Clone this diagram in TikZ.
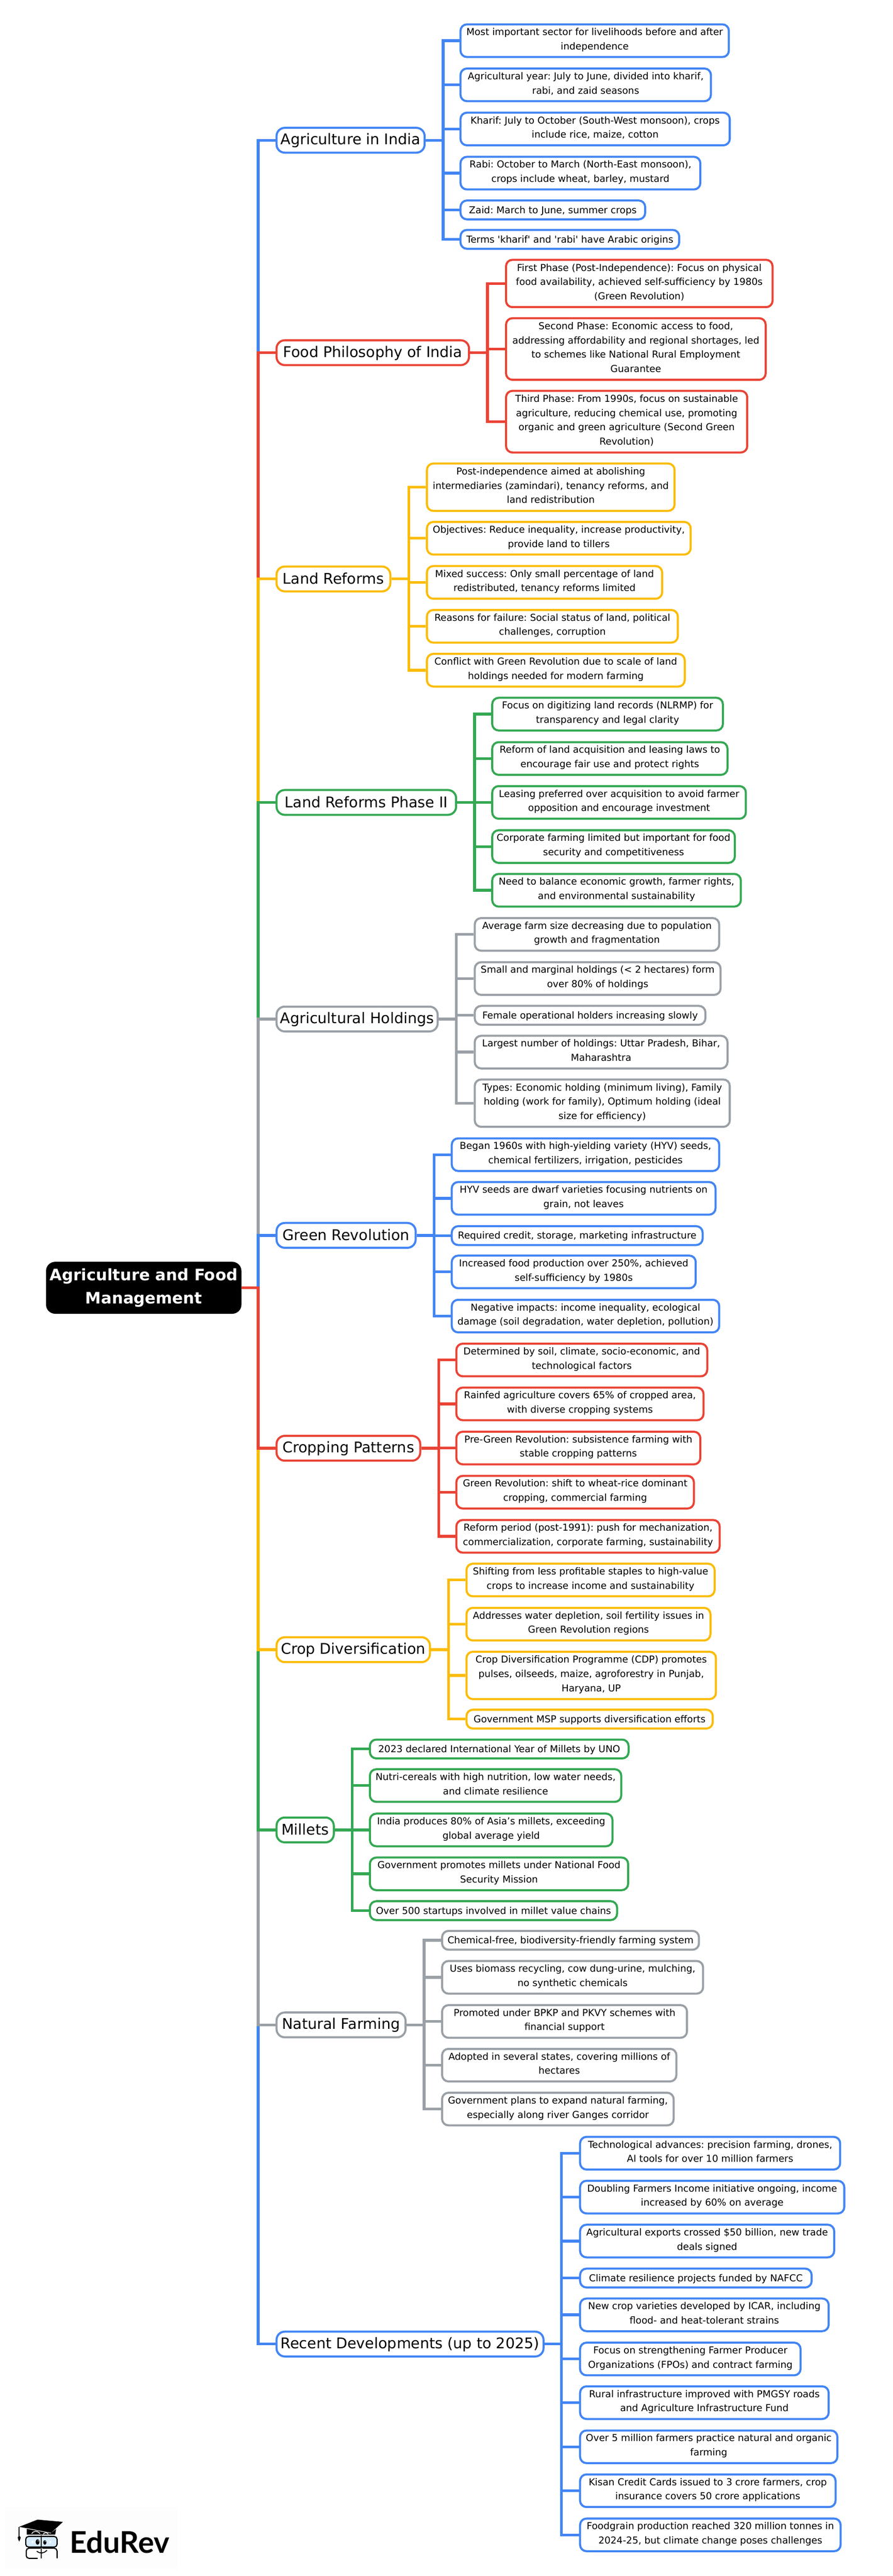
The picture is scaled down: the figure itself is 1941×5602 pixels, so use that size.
\documentclass[tikz,border=0pt]{standalone}
\usepackage{fontspec}
\newfontfamily\dejavu{DejaVu Sans}
\newfontfamily\latobold[Ligatures=TeX]{Lato}
\definecolor{bluec}{HTML}{4285F4}
\definecolor{redc}{HTML}{EA4335}
\definecolor{yellowc}{HTML}{FBBC04}
\definecolor{greenc}{HTML}{34A853}
\definecolor{grayc}{HTML}{9AA0A6}
\definecolor{glassc}{HTML}{D6ECFB}
\definecolor{logobg}{HTML}{FDFDFD}
\tikzset{
  leaf/.style n args={3}{draw=#1,line width=2.25pt,rounded corners=7pt,anchor=west,inner sep=0pt,align=center,
    minimum width=#2*0.5pt,minimum height=#3*0.5pt,
    font=\dejavu\frenchspacing\fontsize{10.4pt}{15.5pt}\selectfont,
    execute at begin node=\rule[-4pt]{0pt}{15.5pt},execute at end node=\rule[-4pt]{0pt}{15.5pt}},
  branch/.style n args={2}{draw=#1,line width=2.25pt,rounded corners=9pt,anchor=west,inner sep=0pt,align=center,
    minimum width=#2*0.5pt,minimum height=27pt,
    font=\dejavu\fontsize{16pt}{20pt}\selectfont,
    execute at begin node=\rule[-2pt]{0pt}{15pt}},
  rootbox/.style={fill=black,text=white,rounded corners=10pt,inner sep=0pt,align=center,
    minimum width=212.5pt,minimum height=56.5pt,
    font=\dejavu\bfseries\fontsize{17.2pt}{25.5pt}\selectfont,
    execute at begin node=\rule[-2pt]{0pt}{16pt},execute at end node=\rule[-2pt]{0pt}{16pt}},
  link/.style={draw=#1,line width=3pt}
}
\begin{document}
\begin{tikzpicture}[x=0.5pt,y=-0.5pt]
    \useasboundingbox (0,0) rectangle (1941,5602);
    % root
    \node[rootbox] (root) at (312.5,2800.5) {Agriculture and Food\\Management};
    % branches
    \node[branch={bluec}{322}] (agri) at (599,305) {Agriculture in India};
    \node[branch={redc}{418.5}] (food) at (599,767) {Food Philosophy of India};
    \node[branch={yellowc}{247.5}] (land) at (599,1259) {Land Reforms};
    \node[branch={greenc}{390.5}] (phase) at (599,1745) {Land Reforms Phase II};
    \node[branch={grayc}{350.5}] (hold) at (599,2216) {Agricultural Holdings};
    \node[branch={bluec}{302.5}] (green) at (599,2686.5) {Green Revolution};
    \node[branch={redc}{312.5}] (crop) at (599,3149.5) {Cropping Patterns};
    \node[branch={yellowc}{333.5}] (divers) at (599,3587.5) {Crop Diversification};
    \node[branch={greenc}{124.5}] (millet) at (599,3979.5) {Millets};
    \node[branch={grayc}{280.5}] (natural) at (599,4403.5) {Natural Farming};
    \node[branch={bluec}{580.5}] (recent) at (599,5097.5) {Recent Developments (up to 2025)};
    % agriculture in india
    \node[leaf={bluec}{583.5}{71}] (agria) at (999,88.5) {Most important sector for livelihoods before and after\\independence};
    \node[leaf={bluec}{544.5}{71}] (agrib) at (999,184.5) {Agricultural year: July to June, divided into kharif,\\rabi, and zaid seasons};
    \node[leaf={bluec}{585.5}{71}] (agric) at (999,280.5) {Kharif: July to October (South-West monsoon), crops\\include rice, maize, cotton};
    \node[leaf={bluec}{521.5}{71}] (agrid) at (999,376.5) {Rabi: October to March (North-East monsoon),\\crops include wheat, barley, mustard};
    \node[leaf={bluec}{401.5}{41}] (agrie) at (999,456.5) {Zaid: March to June, summer crops};
    \node[leaf={bluec}{475.5}{41}] (agrif) at (999,520.5) {Terms 'kharif' and 'rabi' have Arabic origins};
    % food philosophy
    \node[leaf={redc}{579.5}{103}] (fooda) at (1098,616.5) {First Phase (Post-Independence): Focus on physical\\food availability, achieved self-sufficiency by 1980s\\(Green Revolution)};
    \node[leaf={redc}{564.5}{134}] (foodb) at (1098,759) {Second Phase: Economic access to food,\\addressing affordability and regional shortages, led\\to schemes like National Rural Employment\\Guarantee};
    \node[leaf={redc}{524.5}{134}] (foodc) at (1098,917) {Third Phase: From 1990s, focus on sustainable\\agriculture, reducing chemical use, promoting\\organic and green agriculture (Second Green\\Revolution)};
    % land reforms
    \node[leaf={yellowc}{538.5}{103}] (landa) at (926,1059.5) {Post-independence aimed at abolishing\\intermediaries (zamindari), tenancy reforms, and\\land redistribution};
    \node[leaf={yellowc}{573.5}{71}] (landb) at (926,1170.5) {Objectives: Reduce inequality, increase productivity,\\provide land to tillers};
    \node[leaf={yellowc}{511.5}{71}] (landc) at (926,1266.5) {Mixed success: Only small percentage of land\\redistributed, tenancy reforms limited};
    \node[leaf={yellowc}{545.5}{71}] (landd) at (926,1362) {Reasons for failure: Social status of land, political\\challenges, corruption};
    \node[leaf={yellowc}{560.5}{71}] (lande) at (926,1457.5) {Conflict with Green Revolution due to scale of land\\holdings needed for modern farming};
    % land reforms phase ii
    \node[leaf={greenc}{501.5}{71}] (phasea) at (1068,1553) {Focus on digitizing land records (NLRMP) for\\transparency and legal clarity};
    \node[leaf={greenc}{511.5}{71}] (phaseb) at (1068,1649.5) {Reform of land acquisition and leasing laws to\\encourage fair use and protect rights};
    \node[leaf={greenc}{551.5}{71}] (phasec) at (1068,1745) {Leasing preferred over acquisition to avoid farmer\\opposition and encourage investment};
    \node[leaf={greenc}{527.5}{71}] (phased) at (1068,1841) {Corporate farming limited but important for food\\security and competitiveness};
    \node[leaf={greenc}{540.5}{71}] (phasee) at (1068,1936) {Need to balance economic growth, farmer rights,\\and environmental sustainability};
    % agricultural holdings
    \node[leaf={grayc}{531.5}{71}] (holda) at (1030,2032) {Average farm size decreasing due to population\\growth and fragmentation};
    \node[leaf={grayc}{534.5}{71}] (holdb) at (1030,2128) {Small and marginal holdings (< 2 hectares) form\\over 80\% of holdings};
    \node[leaf={grayc}{501.5}{41}] (holdc) at (1030,2208) {Female operational holders increasing slowly};
    \node[leaf={grayc}{549.5}{71}] (holdd) at (1030,2288) {Largest number of holdings: Uttar Pradesh, Bihar,\\Maharashtra};
    \node[leaf={grayc}{554.5}{103}] (holde) at (1030,2399) {Types: Economic holding (minimum living), Family\\holding (work for family), Optimum holding (ideal\\size for efficiency)};
    % green revolution
    \node[leaf={bluec}{581.5}{71}] (greena) at (980,2511) {Began 1960s with high-yielding variety (HYV) seeds,\\chemical fertilizers, irrigation, pesticides};
    \node[leaf={bluec}{573.5}{71}] (greenb) at (980,2606) {HYV seeds are dwarf varieties focusing nutrients on\\grain, not leaves};
    \node[leaf={bluec}{545.5}{41}] (greenc) at (980,2687) {Required credit, storage, marketing infrastructure};
    \node[leaf={bluec}{530.5}{71}] (greend) at (980,2766) {Increased food production over 250\%, achieved\\self-sufficiency by 1980s};
    \node[leaf={bluec}{581.5}{71}] (greene) at (980,2862) {Negative impacts: income inequality, ecological\\damage (soil degradation, water depletion, pollution)};
    % cropping patterns
    \node[leaf={redc}{545.5}{71}] (cropa) at (990,2957.5) {Determined by soil, climate, socio-economic, and\\technological factors};
    \node[leaf={redc}{537.5}{71}] (cropb) at (990,3053) {Rainfed agriculture covers 65\% of cropped area,\\with diverse cropping systems};
    \node[leaf={redc}{530.5}{71}] (cropc) at (990,3149) {Pre-Green Revolution: subsistence farming with\\stable cropping patterns};
    \node[leaf={redc}{516.5}{71}] (cropd) at (990,3245) {Green Revolution: shift to wheat-rice dominant\\cropping, commercial farming};
    \node[leaf={redc}{572.5}{71}] (crope) at (990,3341) {Reform period (post-1991): push for mechanization,\\commercialization, corporate farming, sustainability};
    % crop diversification
    \node[leaf={yellowc}{539.5}{71}] (diversa) at (1012,3436) {Shifting from less profitable staples to high-value\\crops to increase income and sustainability};
    \node[leaf={yellowc}{530.5}{71}] (diversb) at (1012,3532) {Addresses water depletion, soil fertility issues in\\Green Revolution regions};
    \node[leaf={yellowc}{542.5}{103}] (diversc) at (1012,3643.5) {Crop Diversification Programme (CDP) promotes\\pulses, oilseeds, maize, agroforestry in Punjab,\\Haryana, UP};
    \node[leaf={yellowc}{535.5}{41}] (diversd) at (1012,3738.5) {Government MSP supports diversification efforts};
    % millets
    \node[leaf={greenc}{562.5}{41}] (milleta) at (802,3803.5) {2023 declared International Year of Millets by UNO};
    \node[leaf={greenc}{546.5}{71}] (milletb) at (802,3883) {Nutri-cereals with high nutrition, low water needs,\\and climate resilience};
    \node[leaf={greenc}{527.5}{71}] (milletc) at (802,3979.5) {India produces 80\% of Asia’s millets, exceeding\\global average yield};
    \node[leaf={greenc}{561.5}{71}] (milletd) at (802,4075) {Government promotes millets under National Food\\Security Mission};
    \node[leaf={greenc}{537.5}{41}] (millete) at (802,4155) {Over 500 startups involved in millet value chains};
    % natural farming
    \node[leaf={grayc}{558.5}{41}] (naturala) at (959,4219.5) {Chemical-free, biodiversity-friendly farming system};
    \node[leaf={grayc}{567.5}{71}] (naturalb) at (959,4300) {Uses biomass recycling, cow dung-urine, mulching,\\no synthetic chemicals};
    \node[leaf={grayc}{532.5}{71}] (naturalc) at (959,4396) {Promoted under BPKP and PKVY schemes with\\financial support};
    \node[leaf={grayc}{509.5}{71}] (naturald) at (959,4491) {Adopted in several states, covering millions of\\hectares};
    \node[leaf={grayc}{503.5}{71}] (naturale) at (959,4586.5) {Government plans to expand natural farming,\\especially along river Ganges corridor};
    % recent developments
    \node[leaf={bluec}{565.5}{71}] (recenta) at (1259,4682.5) {Technological advances: precision farming, drones,\\AI tools for over 10 million farmers};
    \node[leaf={bluec}{574.5}{71}] (recentb) at (1259,4778) {Doubling Farmers Income initiative ongoing, income\\increased by 60\% on average};
    \node[leaf={bluec}{552.5}{71}] (recentc) at (1259,4873.5) {Agricultural exports crossed \$50 billion, new trade\\deals signed};
    \node[leaf={bluec}{503.5}{41}] (recentd) at (1259,4954) {Climate resilience projects funded by NAFCC};
    \node[leaf={bluec}{540.5}{71}] (recente) at (1259,5034) {New crop varieties developed by ICAR, including\\flood- and heat-tolerant strains};
    \node[leaf={bluec}{479.5}{71}] (recentf) at (1259,5130) {Focus on strengthening Farmer Producer\\Organizations (FPOs) and contract farming};
    \node[leaf={bluec}{540.5}{71}] (recentg) at (1259,5225) {Rural infrastructure improved with PMGSY roads\\and Agriculture Infrastructure Fund};
    \node[leaf={bluec}{559.5}{71}] (recenth) at (1259,5321) {Over 5 million farmers practice natural and organic\\farming};
    \node[leaf={bluec}{555.5}{71}] (recenti) at (1259,5416.5) {Kisan Credit Cards issued to 3 crore farmers, crop\\insurance covers 50 crore applications};
    \node[leaf={bluec}{566.5}{71}] (recentj) at (1259,5512.5) {Foodgrain production reached 320 million tonnes in\\2024-25, but climate change poses challenges};
    % trunk, outer branches first
    \draw[link=bluec] (root.east) -- ++(36,0) |- (agri.west);
    \draw[link=redc] (root.east) -- ++(36,0) |- (food.west);
    \draw[link=yellowc] (root.east) -- ++(36,0) |- (land.west);
    \draw[link=greenc] (root.east) -- ++(36,0) |- (phase.west);
    \draw[link=grayc] (root.east) -- ++(36,0) |- (hold.west);
    \draw[link=bluec] (root.east) -- ++(36,0) |- (green.west);
    \draw[link=bluec] (root.east) -- ++(36,0) |- (recent.west);
    \draw[link=grayc] (root.east) -- ++(36,0) |- (natural.west);
    \draw[link=greenc] (root.east) -- ++(36,0) |- (millet.west);
    \draw[link=yellowc] (root.east) -- ++(36,0) |- (divers.west);
    \draw[link=redc] (root.east) -- ++(36,0) |- (crop.west);
    % side branches
    \draw[link=bluec] (agri.east) -- ++(38,0) |- (agria.west)
          (agri.east) -- ++(38,0) |- (agrib.west)
          (agri.east) -- ++(38,0) |- (agric.west)
          (agri.east) -- ++(38,0) |- (agrid.west)
          (agri.east) -- ++(38,0) |- (agrie.west)
          (agri.east) -- ++(38,0) |- (agrif.west);
    \draw[link=redc] (food.east) -- ++(38,0) |- (fooda.west)
          (food.east) -- ++(38,0) |- (foodb.west)
          (food.east) -- ++(38,0) |- (foodc.west);
    \draw[link=yellowc] (land.east) -- ++(38,0) |- (landa.west)
          (land.east) -- ++(38,0) |- (landb.west)
          (land.east) -- ++(38,0) |- (landc.west)
          (land.east) -- ++(38,0) |- (landd.west)
          (land.east) -- ++(38,0) |- (lande.west);
    \draw[link=greenc] (phase.east) -- ++(38,0) |- (phasea.west)
          (phase.east) -- ++(38,0) |- (phaseb.west)
          (phase.east) -- ++(38,0) |- (phasec.west)
          (phase.east) -- ++(38,0) |- (phased.west)
          (phase.east) -- ++(38,0) |- (phasee.west);
    \draw[link=grayc] (hold.east) -- ++(38,0) |- (holda.west)
          (hold.east) -- ++(38,0) |- (holdb.west)
          (hold.east) -- ++(38,0) |- (holdc.west)
          (hold.east) -- ++(38,0) |- (holdd.west)
          (hold.east) -- ++(38,0) |- (holde.west);
    \draw[link=bluec] (green.east) -- ++(38,0) |- (greena.west)
          (green.east) -- ++(38,0) |- (greenb.west)
          (green.east) -- ++(38,0) |- (greenc.west)
          (green.east) -- ++(38,0) |- (greend.west)
          (green.east) -- ++(38,0) |- (greene.west);
    \draw[link=redc] (crop.east) -- ++(38,0) |- (cropa.west)
          (crop.east) -- ++(38,0) |- (cropb.west)
          (crop.east) -- ++(38,0) |- (cropc.west)
          (crop.east) -- ++(38,0) |- (cropd.west)
          (crop.east) -- ++(38,0) |- (crope.west);
    \draw[link=yellowc] (divers.east) -- ++(38,0) |- (diversa.west)
          (divers.east) -- ++(38,0) |- (diversb.west)
          (divers.east) -- ++(38,0) |- (diversc.west)
          (divers.east) -- ++(38,0) |- (diversd.west);
    \draw[link=greenc] (millet.east) -- ++(38,0) |- (milleta.west)
          (millet.east) -- ++(38,0) |- (milletb.west)
          (millet.east) -- ++(38,0) |- (milletc.west)
          (millet.east) -- ++(38,0) |- (milletd.west)
          (millet.east) -- ++(38,0) |- (millete.west);
    \draw[link=grayc] (natural.east) -- ++(38,0) |- (naturala.west)
          (natural.east) -- ++(38,0) |- (naturalb.west)
          (natural.east) -- ++(38,0) |- (naturalc.west)
          (natural.east) -- ++(38,0) |- (naturald.west)
          (natural.east) -- ++(38,0) |- (naturale.west);
    \draw[link=bluec] (recent.east) -- ++(37,0) |- (recenta.west)
          (recent.east) -- ++(37,0) |- (recentb.west)
          (recent.east) -- ++(37,0) |- (recentc.west)
          (recent.east) -- ++(37,0) |- (recentd.west)
          (recent.east) -- ++(37,0) |- (recente.west)
          (recent.east) -- ++(37,0) |- (recentf.west)
          (recent.east) -- ++(37,0) |- (recentg.west)
          (recent.east) -- ++(37,0) |- (recenth.west)
          (recent.east) -- ++(37,0) |- (recenti.west)
          (recent.east) -- ++(37,0) |- (recentj.west);
    % logo
    \fill[logobg] (10,5452) rectangle (387,5587);
    \begin{scope}[shift={(0,5440)}]
        \fill (41.7,55) -- (81.7,39.3) -- (136.7,44.3) -- (111,68.3) -- (58,58) -- cycle;
        \fill (58,58) -- (58,72) -- (120,72) -- (122,60) -- (111,68.3) -- cycle;
        \draw[white,line width=0.6pt] (58,58.5) -- (111,68.8);
        \draw[white,line width=0.8pt] (69,70) .. controls (73,63) and (82,63) .. (87,70)
              (94,71) .. controls (97,67) and (102,67) .. (105,71);
        \draw[line width=1pt] (41.7,55) -- (41.7,76);
        \fill (38.5,78) -- (41.7,74) -- (45,78) .. controls (45,81) and (43,84) .. (41.7,87) .. controls (40.4,84) and (38.5,81) .. (38.5,78) -- cycle;
        \draw[line width=1.25pt,fill=glassc,rounded corners=3pt] (56,76) rectangle (124,99);
        \draw[line width=1.25pt,rounded corners=3pt] (82,123.5) -- (57,123.5) -- (57,101.5) -- (88,101.5)
              (92,101.5) -- (124,101.5) -- (124,123.5);
        \draw[line width=1.25pt] (90,73) -- (90,124);
        \fill (81.7,88) ellipse [x radius=4.2,y radius=6];
        \fill (97.5,89) ellipse [x radius=3.5,y radius=5];
        \fill[white] (83,85.5) circle (1.2) (98.5,86.5) circle (1);
        \fill[white] (69,85.5) rectangle (73,87.5) (69,88.5) rectangle (73,90.5)
              (107,85.5) rectangle (111,87.5) (107,88.5) rectangle (111,90.5);
        \draw[line width=1pt] (80,108) .. controls (88,114) and (95,113) .. (102,106);
    \end{scope}
    \node[anchor=base west,inner sep=0pt,font=\latobold\bfseries\fontsize{32.5pt}{36pt}\selectfont] (brand) at (151,5552) {EduRev};
\end{tikzpicture}
\end{document}
